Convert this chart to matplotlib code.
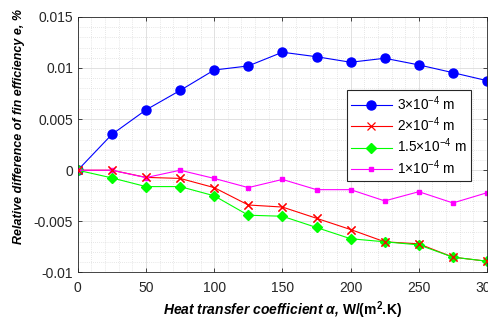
import numpy as np
import matplotlib
matplotlib.use('Agg')
from matplotlib import pyplot as plt
from matplotlib.ticker import MultipleLocator

plt.rcParams['font.family'] = ['Liberation Sans', 'DejaVu Sans']
plt.rcParams['mathtext.fontset'] = 'custom'
plt.rcParams['mathtext.rm'] = 'Liberation Sans'
plt.rcParams['mathtext.it'] = 'Liberation Sans:italic'
plt.rcParams['mathtext.bf'] = 'Liberation Sans:bold'

# heat transfer coefficient, W/(m2.K)
alpha = [0, 25, 50, 75, 100, 125, 150, 175, 200, 225, 250, 275, 300]

# relative difference of fin efficiency for each fin thickness
e_3 = [0, 0.0035, 0.0059, 0.0078, 0.0098, 0.0102, 0.01154, 0.0111, 0.01056, 0.01095, 0.0103, 0.00954, 0.00876]
e_2 = [0, 0, -0.0007, -0.0008, -0.0017, -0.0034, -0.0036, -0.0047, -0.0058, -0.0070, -0.0072, -0.0085, -0.0089]
e_15 = [0, -0.00075, -0.0016, -0.0016, -0.0025, -0.0044, -0.0045, -0.0056, -0.0067, -0.0070, -0.0073, -0.0085, -0.0089]
e_1 = [0, 0, -0.00072, 0, -0.0008, -0.0017, -0.0009, -0.0019, -0.0019, -0.0030, -0.0021, -0.0032, -0.0022]

labels = [r'3$\times$10$^{-4}$ m', r'2$\times$10$^{-4}$ m',
          r'1.5$\times$10$^{-4}$ m', r'1$\times$10$^{-4}$ m']

fig = plt.figure(figsize=(4.89, 3.24), dpi=100)
ax = fig.add_axes([0.159, 0.159, 0.837, 0.789])

ax.plot(alpha, e_3, '-o', color='#0000ff', lw=0.8, ms=6.5, label=labels[0])
ax.plot(alpha, e_2, '-x', color='#ff0000', lw=0.8, ms=6, mew=0.9, label=labels[1])
ax.plot(alpha, e_15, '-D', color='#00ff00', lw=0.8, ms=5, label=labels[2])
ax.plot(alpha, e_1, '-s', color='#ff00ff', lw=0.8, ms=3.5, label=labels[3])
# red crosses drawn on top of green diamonds
ax.plot(alpha, e_2, 'x', color='#ff0000', ms=6, mew=0.9, zorder=3)

ax.set_xlim(0, 300)
ax.set_ylim(-0.01, 0.015)
ax.xaxis.set_major_locator(MultipleLocator(50))
ax.xaxis.set_minor_locator(MultipleLocator(10))
ax.yaxis.set_minor_locator(MultipleLocator(0.001))
ax.set_yticks([-0.01, -0.005, 0, 0.005, 0.01, 0.015])
ax.set_yticklabels(['-0.01', '-0.005', '0', '0.005', '0.01', '0.015'])

ax.grid(which='major', color='#dcdcdc', lw=0.6)
ax.grid(which='minor', color='#d0d0d0', lw=0.5, ls=(0, (1, 2)))
ax.set_axisbelow(True)
ax.tick_params(which='both', direction='in', top=True, right=True, labelsize=10, colors='#262626')
ax.tick_params(which='minor', length=0)
ax.tick_params(which='major', length=3, width=0.6)
ax.tick_params(axis='x', pad=6)
for s in ax.spines.values():
    s.set_color('#262626')
    s.set_linewidth(0.6)

ax.set_xlabel('Heat transfer coefficient α, $\\mathbf{W/(m^{2}.\\!K)}$', fontsize=10,
              fontweight='bold', fontstyle='italic', labelpad=3)
ax.set_ylabel('Relative difference of fin efficiency e, %', fontsize=9,
              fontweight='bold', fontstyle='italic', labelpad=6)
ax.yaxis.set_label_coords(-0.13, 0.57)

leg = ax.legend(loc='upper right', bbox_to_anchor=(0.977, 0.74), fontsize=9.8,
                fancybox=False, edgecolor='#262626', framealpha=1,
                handlelength=3.0, labelspacing=0.2, borderpad=0.3, handletextpad=0.4)
leg.get_frame().set_linewidth(0.8)

fig.savefig('out.png', dpi=100)
